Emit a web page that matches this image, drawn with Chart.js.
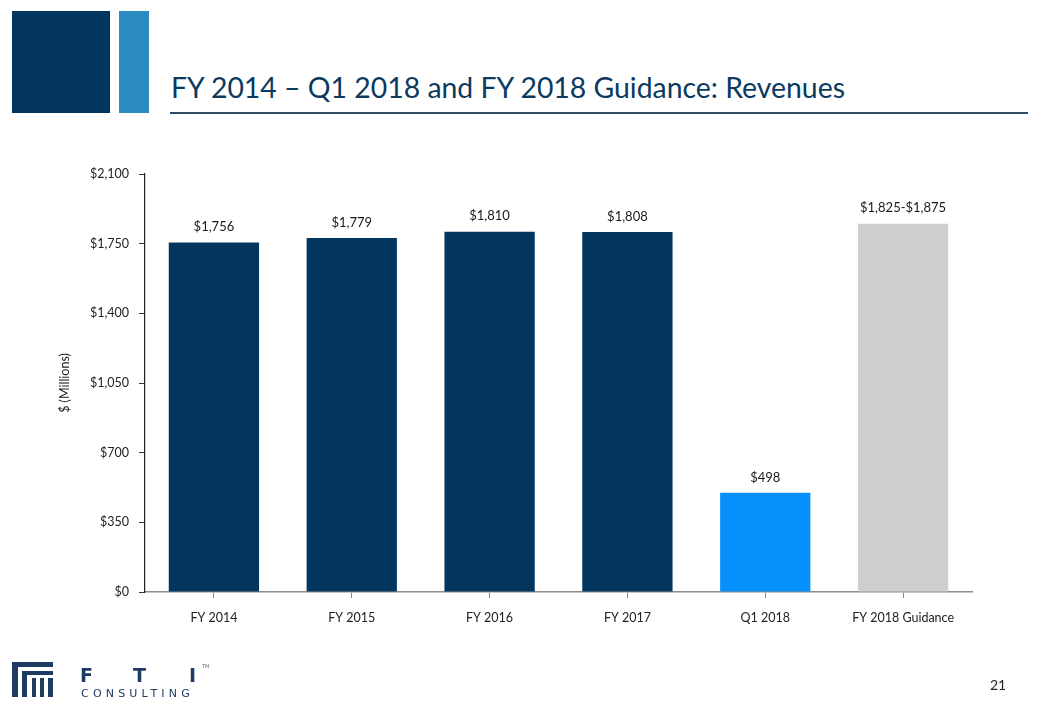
<!DOCTYPE html>
<html>
<head>
<meta charset="utf-8">
<script src="https://cdn.jsdelivr.net/npm/chart.js@4"></script>
<style>
  html, body { margin: 0; padding: 0; background: #fff; }
  body { width: 1040px; height: 720px; position: relative; overflow: hidden; font-family: Lato, "Open Sans", sans-serif; }
  .sq1 { position: absolute; left: 12px; top: 11px; width: 98px; height: 102px; background: #02365f; }
  .sq2 { position: absolute; left: 119px; top: 11px; width: 30px; height: 102px; background: #2a8bc0; }
  .titulo { position: absolute; left: 171px; top: 70px; font-size: 28.4px; color: #0c3a5f; white-space: nowrap; }
  .linha { position: absolute; left: 170px; top: 112px; width: 858px; height: 2px; background: #2d4a66; }
  .pagina { position: absolute; left: 990px; top: 676px; font-size: 14px; color: #222; }
  .grafico { position: absolute; left: 0; top: 0; width: 1040px; height: 720px; }
  .logo { position: absolute; left: 12px; top: 660px; }
</style>
</head>
<body>
<div class="sq1"></div>
<div class="sq2"></div>
<div class="titulo">FY 2014 – Q1 2018 and FY 2018 Guidance: Revenues</div>
<div class="linha"></div>
<div class="grafico"><canvas id="cv"></canvas></div>
<svg class="logo" width="200" height="40" viewBox="0 0 200 40">
  <rect x="0" y="2" width="41" height="5" fill="#1d3b63"/>
  <rect x="0" y="2" width="6" height="35" fill="#1d3b63"/>
  <rect x="10" y="11" width="31" height="4" fill="#1d3b63"/>
  <rect x="10" y="11" width="5" height="26" fill="#1d3b63"/>
  <rect x="20" y="18" width="4" height="19" fill="#1d3b63"/>
  <rect x="28" y="18" width="4" height="19" fill="#1d3b63"/>
  <rect x="36" y="18" width="5" height="19" fill="#1d3b63"/>
  <text x="68" y="22" font-family="DejaVu Sans" font-weight="bold" font-size="19" fill="#1d3b63">F</text>
  <text x="121" y="22" font-family="DejaVu Sans" font-weight="bold" font-size="19" fill="#1d3b63">T</text>
  <text x="177" y="22" font-family="DejaVu Sans" font-weight="bold" font-size="19" fill="#1d3b63">I</text>
  <text x="190" y="8" font-family="DejaVu Sans" font-size="5" fill="#666">TM</text>
  <text x="69" y="37" font-family="DejaVu Sans" font-size="11" fill="#1d3b63" letter-spacing="4.2">CONSULTING</text>
</svg>
<div class="pagina">21</div>
<script>
// dados do gráfico:
const categorias = ["FY 2014", "FY 2015", "FY 2016", "FY 2017", "Q1 2018", "FY 2018 Guidance"];
const receitas = [1756, 1779, 1810, 1808, 498, 1850];
const rotulos = ["$1,756", "$1,779", "$1,810", "$1,808", "$498", "$1,825-$1,875"];
const cores = ["#02365f", "#02365f", "#02365f", "#02365f", "#0590fb", "#d0cfce"];
const eixoMin = 0;
const eixoMax = 2100;
const eixoPasso = 350;

// plugin simples pros rótulos em cima das barras
const rotulosBarras = {
  id: "rotulosBarras",
  afterDatasetsDraw(chart) {
    const ctx = chart.ctx;
    const meta = chart.getDatasetMeta(0);
    ctx.save();
    ctx.font = '13px Lato, "Open Sans", sans-serif';
    ctx.fillStyle = "#1a1a1a";
    ctx.textAlign = "center";
    ctx.textBaseline = "bottom";
    meta.data.forEach((bar, i) => {
      ctx.fillText(rotulos[i], bar.x, bar.y - 9);
    });
    ctx.restore();
  },
};

const config = {
  type: "bar",
  data: {
    labels: categorias,
    datasets: [
      {
        data: receitas,
        backgroundColor: cores,
        categoryPercentage: 1,
        barPercentage: 0.655,
      },
    ],
  },
  options: {
    responsive: true,
    maintainAspectRatio: false,
    animation: false,
    layout: {
      padding: { left: 57, top: 174, right: 68, bottom: 88 },
    },
    plugins: {
      legend: { display: false },
      tooltip: { enabled: false },
    },
    scales: {
      x: {
        grid: {
          display: true,
          offset: false,
          drawOnChartArea: false,
          drawTicks: true,
          tickLength: 6,
          color: "#8c8c8c",
        },
        border: { color: "#8c8c8c", width: 1.5 },
        ticks: {
          color: "#222",
          padding: 12,
          font: { size: 12.5, family: 'Lato, "Open Sans", sans-serif' },
        },
        afterFit: (s) => { s.height = 40; },
      },
      y: {
        min: eixoMin,
        max: eixoMax,
        ticks: {
          stepSize: eixoPasso,
          color: "#222",
          padding: 10,
          font: { size: 12.5, family: 'Lato, "Open Sans", sans-serif' },
          callback: (v) => "$" + v.toLocaleString("en-US"),
        },
        grid: {
          drawOnChartArea: false,
          drawTicks: true,
          tickLength: 6,
          color: "#333",
        },
        border: { color: "#222", width: 1.2 },
        title: {
          display: true,
          text: "$ (Millions)",
          color: "#222",
          font: { size: 12.5, family: 'Lato, "Open Sans", sans-serif' },
          padding: 0,
        },
        afterFit: (s) => { s.width = 88; },
      },
    },
  },
  plugins: [rotulosBarras],
};

addEventListener("load", () => {
  new Chart(document.getElementById("cv"), config);
});
</script>
</body>
</html>
